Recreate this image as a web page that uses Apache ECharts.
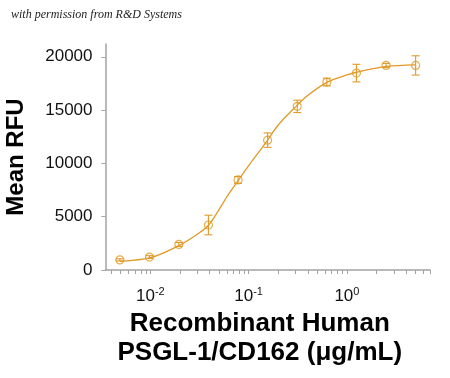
<!DOCTYPE html>
<html><head><meta charset="utf-8">
<script src="https://cdn.jsdelivr.net/npm/echarts@6/dist/echarts.min.js"></script>
<style>html,body{margin:0;padding:0;background:#fff}#c{width:450px;height:378px}</style>
</head><body><div id="c"></div>
<script>
// Measured points (2-fold dilution series, µg/mL)
const concentrations = [0.0049, 0.0098, 0.0195, 0.039, 0.078, 0.156, 0.3125, 0.625, 1.25, 2.5, 5];
const meanRFU = [950, 1210, 2400, 4220, 8450, 12180, 15350, 17630, 18470, 19190, 19190];
const errRFU = [100, 130, 180, 920, 320, 675, 580, 360, 825, 190, 905];
// Fitted curve
const fitConc = [0.0049, 0.01, 0.02, 0.0316, 0.039, 0.048, 0.06, 0.079, 0.104, 0.1315, 0.156, 0.2, 0.3, 0.39, 0.625, 1.0, 1.25, 2.5, 5];
const fitRFU = [800, 1150, 2340, 3500, 4200, 5400, 6850, 8440, 10000, 11250, 12190, 13600, 15300, 16300, 17600, 18300, 18550, 19100, 19250];
// Ticks
const yTicks = [0, 5000, 10000, 15000, 20000];
const xMajorTicks = [0.01, 0.1, 1];
const xMinorTicks = [0.004, 0.005, 0.006, 0.007, 0.008, 0.009,
  0.02, 0.03, 0.04, 0.05, 0.06, 0.07, 0.08, 0.09,
  0.2, 0.3, 0.4, 0.5, 0.6, 0.7, 0.8, 0.9,
  2, 3, 4, 5, 6, 7];
const xAxisTitle = 'Recombinant Human\nPSGL-1/CD162 (\u03bcg/mL)';
const yAxisTitle = 'Mean RFU';
const credit = 'with permission from R&D Systems';

const ORANGE = '#E09A28';
const AXIS = '#A3A3A3';
const FONT = "Arial, 'Liberation Sans', sans-serif";

const chart = echarts.init(document.getElementById('c'), null, {renderer: 'canvas'});
const allXTicks = xMinorTicks.concat(xMajorTicks).sort((a, b) => a - b);

chart.setOption({
  animation: false,
  backgroundColor: '#fff',
  graphic: [{
    type: 'text', left: 11, top: 9,
    style: {text: credit, font: "italic 12px 'Liberation Serif', 'DejaVu Serif', serif", fill: '#222'}
  }],
  grid: {left: 105.5, right: 20, top: 44, bottom: 108, containLabel: false, outerBoundsMode: 'none'},
  xAxis: {
    type: 'log', logBase: 10, min: 0.0035, max: 7,
    splitLine: {show: false},
    axisLine: {lineStyle: {color: AXIS, width: 1.5}},
    axisTick: {show: true, length: 4, customValues: allXTicks, lineStyle: {color: AXIS, width: 1}},
    minorTick: {show: false},
    axisLabel: {
      customValues: xMajorTicks, margin: 16,
      formatter: v => '{b|10}{s|' + Math.round(Math.log10(v)) + '}',
      rich: {
        b: {fontSize: 17, fontFamily: FONT, color: '#111'},
        s: {fontSize: 11, fontFamily: FONT, color: '#111', verticalAlign: 'top', padding: [0, 0, 9, 0]}
      }
    },
    name: xAxisTitle, nameLocation: 'middle', nameGap: 34,
    nameTextStyle: {fontSize: 26, fontWeight: 'bold', fontFamily: FONT, color: '#000', lineHeight: 29, padding: [0, 16, 0, 0]}
  },
  yAxis: {
    type: 'value', min: 0, max: 21200,
    splitLine: {show: false},
    axisLine: {show: true, lineStyle: {color: AXIS, width: 1.5}},
    axisTick: {show: true, length: 4, customValues: yTicks, lineStyle: {color: AXIS, width: 1}},
    axisLabel: {customValues: yTicks, margin: 13, fontSize: 17, fontFamily: FONT, color: '#111', formatter: v => String(v)},
    name: yAxisTitle, nameLocation: 'middle', nameGap: 77, nameRotate: 90,
    nameTextStyle: {fontSize: 24, fontWeight: 'bold', fontFamily: FONT, color: '#000'}
  },
  series: [
    {
      type: 'line', name: 'fit', data: fitConc.map((c, i) => [c, fitRFU[i]]),
      smooth: 0.3, showSymbol: false, symbol: 'none',
      lineStyle: {color: ORANGE, width: 1.3}, z: 2
    },
    {
      type: 'custom', name: 'error',
      data: concentrations.map((c, i) => [c, meanRFU[i] - errRFU[i], meanRFU[i] + errRFU[i]]),
      renderItem: (params, api) => {
        const lo = api.coord([api.value(0), api.value(1)]);
        const hi = api.coord([api.value(0), api.value(2)]);
        const w = 4;
        const st = {stroke: ORANGE, lineWidth: 1.1, fill: null};
        return {type: 'group', children: [
          {type: 'line', shape: {x1: lo[0], y1: lo[1], x2: hi[0], y2: hi[1]}, style: st},
          {type: 'line', shape: {x1: lo[0] - w, y1: lo[1], x2: lo[0] + w, y2: lo[1]}, style: st},
          {type: 'line', shape: {x1: hi[0] - w, y1: hi[1], x2: hi[0] + w, y2: hi[1]}, style: st}
        ]};
      },
      encode: {x: 0, y: [1, 2]}, z: 3
    },
    {
      type: 'scatter', name: 'points', data: concentrations.map((c, i) => [c, meanRFU[i]]),
      symbol: 'circle', symbolSize: 8,
      itemStyle: {color: 'rgba(0,0,0,0)', borderColor: ORANGE, borderWidth: 1.2}, z: 4
    }
  ]
});
</script></body></html>
